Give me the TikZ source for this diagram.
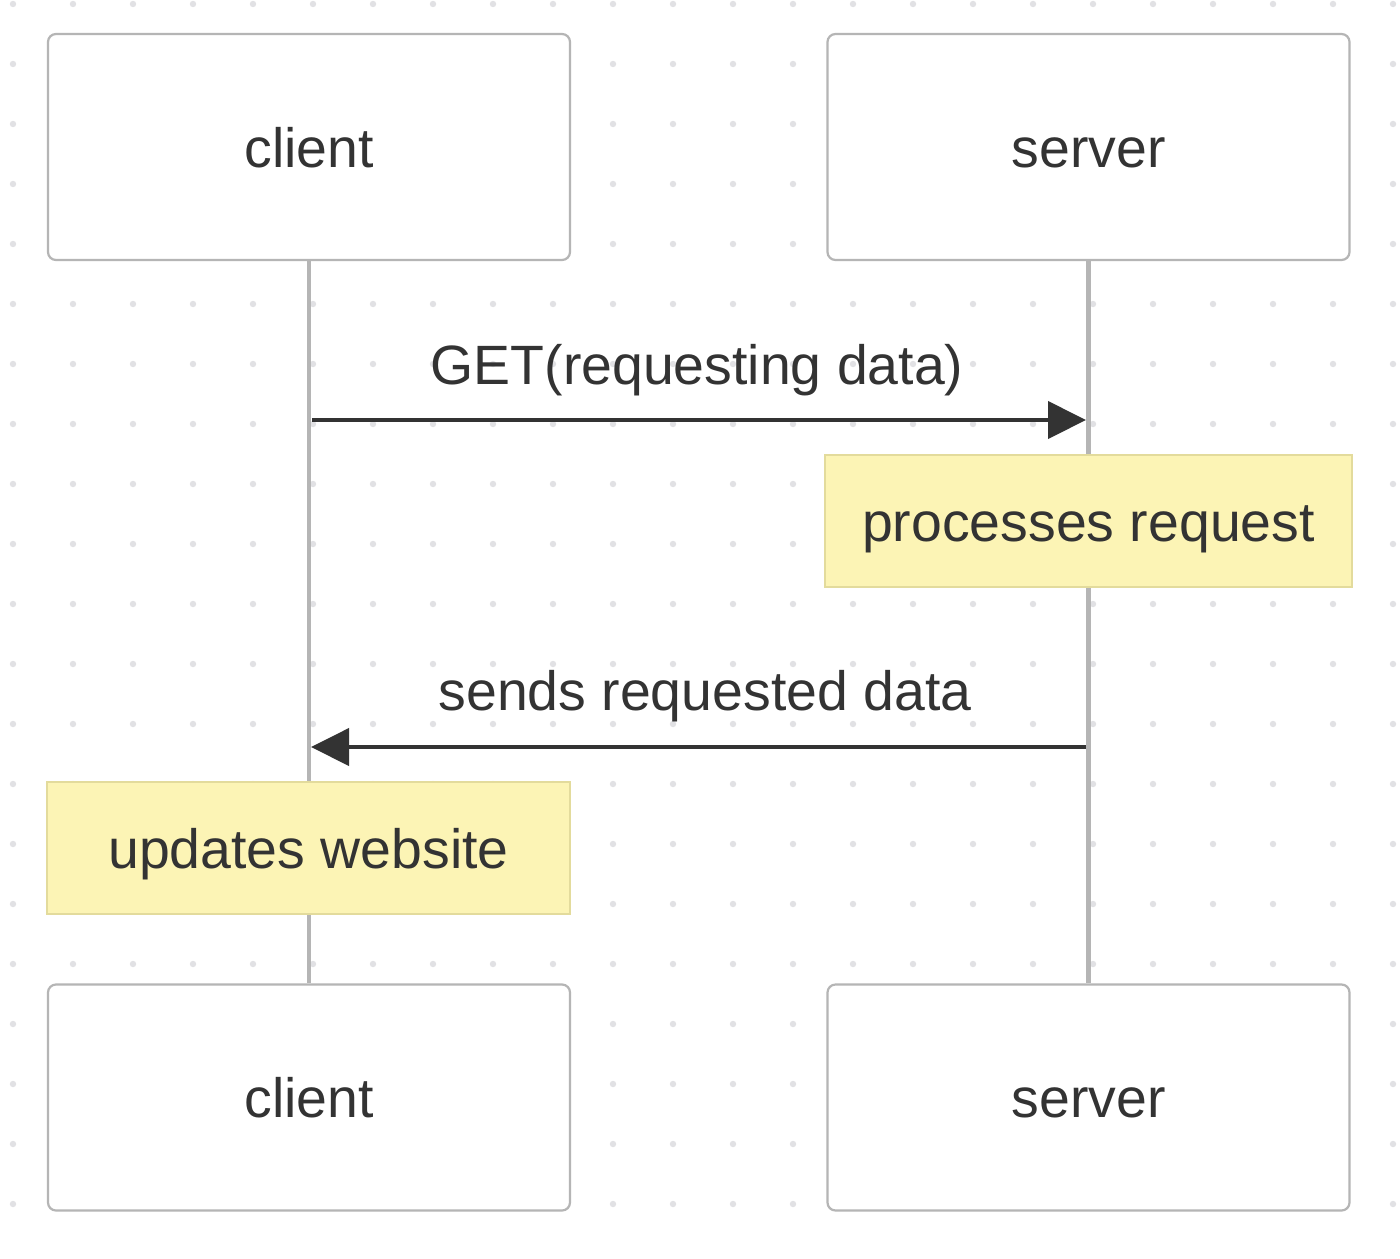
\documentclass[tikz,border=0pt]{standalone}
\usepackage{fontspec}
\setmainfont{Liberation Sans}
\usetikzlibrary{arrows.meta}
\definecolor{txt}{HTML}{333333}
\definecolor{boxline}{HTML}{B5B5B5}
\definecolor{dotc}{HTML}{E1E1E4}
\definecolor{notefill}{HTML}{FCF4B5}
\definecolor{noteline}{HTML}{E3DB9C}
\tikzset{
  actor/.style={draw=boxline, line width=1.1pt, fill=white, rounded corners=4pt,
    minimum width=261pt, minimum height=113pt, inner sep=0pt,
    text=txt, font=\fontsize{27.7pt}{32pt}\selectfont, text height=20pt, text depth=0pt},
  notebox/.style={draw=noteline, line width=1.1pt, fill=notefill,
    minimum height=66pt, inner sep=0pt,
    text=txt, font=\fontsize{27.7pt}{32pt}\selectfont, text height=20pt, text depth=0pt},
  lifeline/.style={draw=boxline, line width=2.2pt},
  msg/.style={draw=txt, line width=2pt, -{Triangle[length=19pt,width=18.5pt]}},
  msglabel/.style={text=txt, font=\fontsize{27.7pt}{32pt}\selectfont, anchor=base, inner sep=0pt}
}
\begin{document}
\begin{tikzpicture}[x=0.5pt,y=-0.5pt]
\useasboundingbox (0,0) rectangle (1400,1258);
\fill[white] (0,0) rectangle (1400,1258);
% dot grid
\foreach \i in {0,...,23}{
  \foreach \j in {0,...,20}{
    \fill[dotc] ({13+60*\i},{4+60*\j}) circle (1.6pt);
  }
}
% actors
\node[actor] (ctop) at (309,147) {client};
\node[actor] (stop) at (1088.5,147) {server};
\node[actor] (cbot) at (309,1097.5) {client};
\node[actor] (sbot) at (1088.5,1097.5) {server};
% lifelines
\draw[lifeline] (ctop.south) -- (cbot.north);
\draw[lifeline] (stop.south) -- (sbot.north);
% notes
\node[notebox, minimum width=263.5pt] (n1) at (1088.5,521) {processes request};
\node[notebox, minimum width=261.5pt] (n2) at (308.5,848) {updates website};
% messages
\coordinate (m1s) at (312,420);
\coordinate (m1e) at (1086,420);
\coordinate (m2s) at (1086,747);
\coordinate (m2e) at (311,747);
\draw[msg] (m1s) -- (m1e);
\draw[msg] (m2s) -- (m2e);
\node[msglabel] (l1) at (697,384) {GET(requesting data)};
\node[msglabel] (l2) at (705,710) {sends requested data};
\end{tikzpicture}
\end{document}
